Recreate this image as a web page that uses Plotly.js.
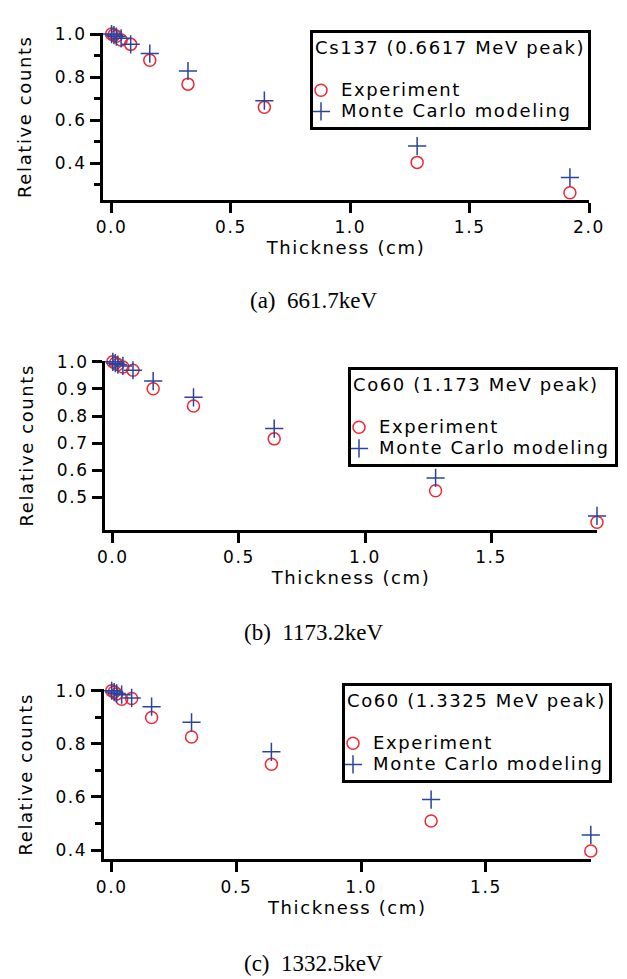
<!DOCTYPE html>
<html>
<head>
<meta charset="utf-8">
<script src="https://cdn.plot.ly/plotly-3.0.1.min.js"></script>
<style>
html,body{margin:0;padding:0;background:#fff;}
#chart{width:627px;height:979px;}
svg text{letter-spacing:1.6px;}
svg text.annotation-text{letter-spacing:0;}
svg text[class*="legend"]{font-size:18px !important;}
</style>
</head>
<body>
<div id="chart"></div>
<script>
// ---- data ----
const thickness = [0, 0.01, 0.02, 0.04, 0.08, 0.16, 0.32, 0.64, 1.28, 1.92];
const csExp  = [1.0, 0.995, 0.99, 0.972, 0.952, 0.878, 0.767, 0.659, 0.403, 0.262];
const csMC   = [1.0, 0.995, 0.988, 0.98, 0.952, 0.909, 0.828, 0.690, 0.479, 0.333];
const co1Exp = [1.0, 0.995, 0.99, 0.981, 0.969, 0.901, 0.837, 0.716, 0.525, 0.409];
const co1MC  = [1.0, 0.995, 0.99, 0.985, 0.969, 0.929, 0.869, 0.754, 0.572, 0.432];
const co2Exp = [1.0, 0.995, 0.988, 0.968, 0.971, 0.899, 0.826, 0.723, 0.509, 0.396];
const co2MC  = [1.0, 0.995, 0.99, 0.985, 0.973, 0.940, 0.881, 0.770, 0.590, 0.457];
const legendTitles = ['Cs137 (0.6617 MeV peak)', 'Co60 (1.173 MeV peak)', 'Co60 (1.3325 MeV peak)'];
const seriesNames = ['Experiment', 'Monte Carlo modeling'];
const captions = ['(a)\u00a0\u00a0661.7keV', '(b)\u00a0\u00a01173.2keV', '(c)\u00a0\u00a01332.5keV'];
const xTickVals = [[0, 0.5, 1.0, 1.5, 2.0], [0, 0.5, 1.0, 1.5], [0, 0.5, 1.0, 1.5]];
const yTickVals = [[0.4, 0.6, 0.8, 1.0], [0.5, 0.6, 0.7, 0.8, 0.9, 1.0], [0.4, 0.6, 0.8, 1.0]];

// ---- layout helpers ----
const W = 627, H = 979;
const FONT = 'DejaVu Sans, sans-serif';
const RED = 'rgb(236,40,52)', BLUE = 'rgb(40,68,160)';
function xd(a, b) { return [a / W, b / W]; }
function yd(top, bottom) { return [1 - bottom / H, 1 - top / H]; }

const panels = [
  {exp: csExp, mc: csMC, xr: [-0.036, 2.0], yr: [0.228, 1.003], xpx: [103, 589], ypx: [33.4, 200], minor: true, leg: [310, 30]},
  {exp: co1Exp, mc: co1MC, xr: [-0.031, 1.92], yr: [0.382, 1.003], xpx: [105, 597], ypx: [361, 529.5], minor: false, leg: [348, 367]},
  {exp: co2Exp, mc: co2MC, xr: [-0.032, 1.92], yr: [0.365, 1.005], xpx: [103.7, 590.8], ypx: [689.4, 859.3], minor: true, leg: [342, 683]}
];
const capY = [300, 632, 963];

const traces = [];
const layout = {
  width: W, height: H, margin: {l: 0, r: 0, t: 0, b: 0},
  paper_bgcolor: '#fff', plot_bgcolor: '#fff',
  font: {family: FONT, size: 17, color: '#000'},
  showlegend: true, annotations: []
};

panels.forEach((p, i) => {
  const n = i === 0 ? '' : String(i + 1);
  const legName = i === 0 ? 'legend' : 'legend' + (i + 1);
  traces.push({
    x: thickness, y: p.exp, xaxis: 'x' + n, yaxis: 'y' + n, mode: 'markers', type: 'scatter',
    name: seriesNames[0], legend: legName, cliponaxis: false,
    marker: {symbol: 'circle-open', size: 12, color: RED, line: {width: 1.5, color: RED}}
  });
  traces.push({
    x: thickness, y: p.mc, xaxis: 'x' + n, yaxis: 'y' + n, mode: 'markers', type: 'scatter',
    name: seriesNames[1], legend: legName, cliponaxis: false,
    marker: {symbol: 'cross-thin', size: 13, color: BLUE, line: {width: 1.5, color: BLUE}}
  });
  layout['xaxis' + n] = {
    domain: xd(p.xpx[0], p.xpx[1]), range: p.xr, anchor: 'y' + n,
    showgrid: false, zeroline: false, showline: true, linecolor: '#000', linewidth: 3,
    ticks: 'outside', ticklen: 10, tickwidth: 3, tickcolor: '#000',
    tickmode: 'array', tickvals: xTickVals[i], ticktext: xTickVals[i].map(v => v.toFixed(1)),
    tickfont: {family: FONT, size: 17}, fixedrange: true,
    title: {text: 'Thickness (cm)', font: {family: FONT, size: 18}, standoff: 4}
  };
  const yax = {
    domain: yd(p.ypx[0], p.ypx[1]), range: p.yr, anchor: 'x' + n,
    showgrid: false, zeroline: false, showline: true, linecolor: '#000', linewidth: 3,
    ticks: 'outside', ticklen: 10, tickwidth: 3, tickcolor: '#000',
    tickmode: 'array', tickvals: yTickVals[i], ticktext: yTickVals[i].map(v => v.toFixed(1)),
    tickfont: {family: FONT, size: 17}, fixedrange: true,
    title: {text: 'Relative counts', font: {family: FONT, size: 18}, standoff: 19}
  };
  if (p.minor) {
    yax.minor = {tickmode: 'array', tickvals: [0.3, 0.5, 0.7, 0.9], ticks: 'outside', ticklen: 6, tickwidth: 3, tickcolor: '#000', showgrid: false};
  }
  layout['yaxis' + n] = yax;
  layout[legName] = {
    x: p.leg[0] / W, y: 1 - p.leg[1] / H, xanchor: 'left', yanchor: 'top', xref: 'paper', yref: 'paper',
    bgcolor: '#fff', bordercolor: '#000', borderwidth: 3,
    font: {family: FONT, size: 14, color: '#000'}, indentation: -12,
    title: {text: legendTitles[i] + '<br> ', font: {family: FONT, size: 16}}
  };
  layout.annotations.push({
    text: captions[i], xref: 'paper', yref: 'paper', x: 313 / W, y: 1 - capY[i] / H,
    xanchor: 'center', yanchor: 'middle', showarrow: false,
    font: {family: 'Liberation Serif, Times New Roman, serif', size: 23, color: '#000'}
  });
});

Plotly.newPlot('chart', traces, layout, {staticPlot: true, displayModeBar: false});
</script>
</body>
</html>
